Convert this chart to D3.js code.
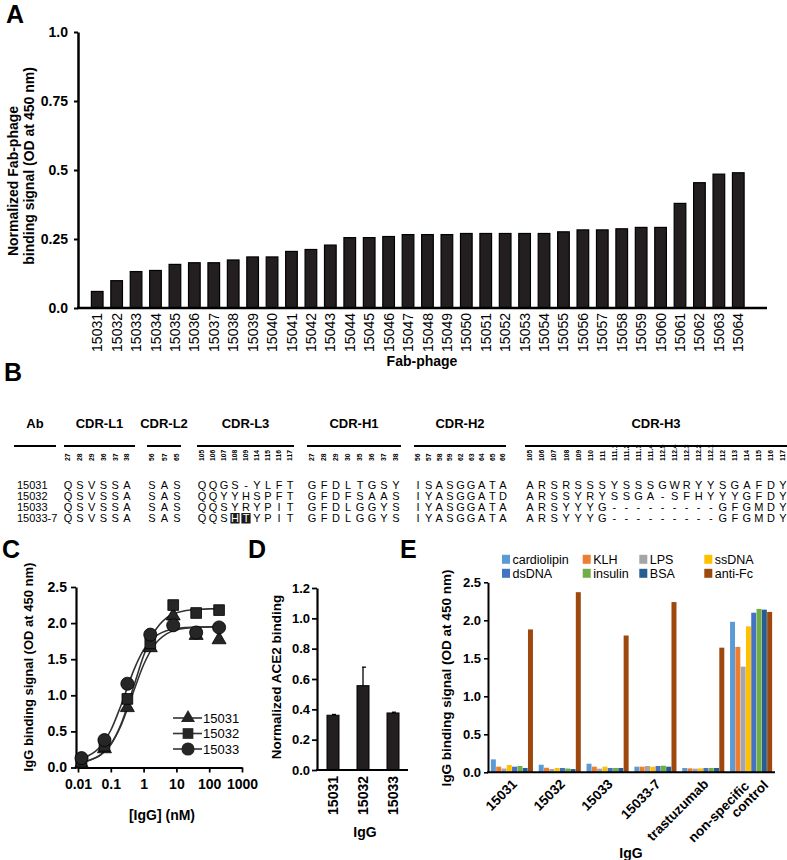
<!DOCTYPE html>
<html><head><meta charset="utf-8">
<script src="https://cdn.jsdelivr.net/npm/d3@7"></script>
<style>
body{margin:0;background:#fff}
svg text{font-family:"Liberation Sans",Arial,Helvetica,sans-serif;fill:#000}
</style>
</head><body>
<svg id="chart" width="787" height="860"></svg>
<script>
// ================= DATA =================
// Panel A
const phageIds = ["15031","15032","15033","15034","15035","15036","15037","15038","15039","15040","15041","15042","15043","15044","15045","15046","15047","15048","15049","15050","15051","15052","15053","15054","15055","15056","15057","15058","15059","15060","15061","15062","15063","15064"];
const phageSignal = [0.060,0.099,0.132,0.136,0.158,0.164,0.164,0.174,0.185,0.185,0.205,0.212,0.228,0.255,0.255,0.259,0.266,0.266,0.266,0.270,0.270,0.270,0.270,0.270,0.276,0.283,0.283,0.287,0.292,0.292,0.379,0.454,0.485,0.490];
const aTicks = [0,0.25,0.5,0.75,1.0];
const aTickLabels = ["0.0","0.25","0.5","0.75","1.0"];

// Panel B
const abNames = ["15031","15032","15033","15033-7"];
const cdrNames = ["CDR-L1","CDR-L2","CDR-L3","CDR-H1","CDR-H2","CDR-H3"];
const cdrPositions = [
  ["27","28","29","36","37","38"],
  ["56","57","65"],
  ["105","106","107","108","109","114","115","116","117"],
  ["27","28","29","30","35","36","37","38"],
  ["56","57","58","59","62","63","64","65","66"],
  ["105","106","107","108","109","110","111","111.1","111.2","111.3","111.4","112.5","112.4","112.3","112.2","112.1","112","113","114","115","116","117"]
];
const seqL1 = ["QSVSSA","QSVSSA","QSVSSA","QSVSSA"];
const seqL2 = ["SAS","SAS","SAS","SAS"];
const seqL3 = ["QQGS-YLFT","QQYYHSPFT","QQSYRYPIT","QQSHTYPIT"];
const seqH1 = ["GFDLTGSY","GFDFSAAS","GFDLGGYS","GFDLGGYS"];
const seqH2 = ["ISASGGATA","IYASGGATD","IYASGGATA","IYASGGATA"];
const seqH3 = ["ARSRSSSYSSSGWRYYSGAFDY","ARSSYRYSSGA-SFHYYYGFDY","ARSYYYG---------GFGMDY","ARSYYYG---------GFGMDY"];
const highlighted = [{ab:"15033-7", cdr:2, idx:3},{ab:"15033-7", cdr:2, idx:4}];

// Panel C
const igConc = [0.0128,0.064,0.32,1.6,8,40,200];
const sig15031 = [0.05,0.26,0.83,1.66,2.10,1.83,1.77];
const sig15032 = [0.08,0.30,0.95,1.72,2.25,2.14,2.18];
const sig15033 = [0.13,0.38,1.16,1.84,1.97,1.87,1.94];
const fitConc = [0.01,0.02,0.05,0.1,0.2,0.5,1,2,5,10,20,50,100,200];
const fit15031 = [0.070,0.094,0.177,0.318,0.571,1.060,1.423,1.678,1.850,1.905,1.930,1.943,1.947,1.948];
const fit15032 = [0.070,0.094,0.178,0.322,0.587,1.125,1.548,1.858,2.072,2.142,2.175,2.191,2.197,2.199];
const fit15033 = [0.115,0.159,0.298,0.516,0.849,1.346,1.628,1.795,1.895,1.926,1.939,1.946,1.948,1.949];
const cXTicks = [0.01,0.1,1,10,100,1000];
const cXTickLabels = ["0.01","0.1","1","10","100","1000"];
const cYTicks = [0,0.5,1,1.5,2,2.5];

// Panel D
const aceIds = ["15031","15032","15033"];
const aceMean = [0.361,0.556,0.376];
const aceErr = [0.005,0.122,0.005];
const dYTicks = [0,0.2,0.4,0.6,0.8,1.0,1.2];

// Panel E
const eGroups = ["15031","15032","15033","15033-7","trastuzumab","non-specific control"];
const eSeries = ["cardiolipin","KLH","LPS","ssDNA","dsDNA","insulin","BSA","anti-Fc"];
const eColors = ["#5B9BD5","#ED7D31","#A5A5A5","#FFC000","#4472C4","#70AD47","#255E91","#9E480E"];
const vCardiolipin = [0.170,0.100,0.113,0.074,0.057,1.98];
const vKLH        = [0.074,0.060,0.074,0.074,0.052,1.65];
const vLPS        = [0.050,0.043,0.048,0.083,0.048,1.39];
const vSsDNA      = [0.096,0.057,0.074,0.074,0.052,1.92];
const vDsDNA      = [0.074,0.057,0.057,0.083,0.057,2.10];
const vInsulin    = [0.083,0.050,0.057,0.087,0.057,2.15];
const vBSA        = [0.057,0.043,0.057,0.074,0.057,2.14];
const vAntiFc     = [1.88,2.37,1.80,2.24,1.64,2.11];
const eYTicks = [0,0.5,1,1.5,2,2.5];

// ================= DRAW =================
const svg = d3.select("#chart");
svg.append("rect").attr("width",787).attr("height",860).attr("fill","#fff");

function styleAxis(g, fs, weight, sw){
  g.select(".domain").attr("stroke","#000").attr("stroke-width",sw);
  g.selectAll(".tick line").attr("stroke","#000").attr("stroke-width",sw*0.8);
  g.selectAll(".tick text").attr("font-size",fs).attr("font-weight",weight)
    .attr("font-family",'"Liberation Sans",Arial,sans-serif').attr("fill","#000");
}
function panelLabel(t,x,y){
  svg.append("text").attr("x",x).attr("y",y).attr("font-size",25).attr("font-weight","bold").text(t);
}
panelLabel("A",6,23); panelLabel("B",4,381); panelLabel("C",2,558); panelLabel("D",248,558); panelLabel("E",400,558);

// ---------- Panel A ----------
{
  const g = svg.append("g");
  const y = d3.scaleLinear().domain([0,1]).range([308,32]);
  const x = d3.scaleBand().domain(phageIds).range([87.5,748]).paddingInner(0.4).paddingOuter(0.2);
  g.selectAll("rect.bar").data(phageIds).join("rect").attr("class","bar")
    .attr("x",d=>x(d)).attr("width",x.bandwidth())
    .attr("y",(d,i)=>y(phageSignal[i])).attr("height",(d,i)=>y(0)-y(phageSignal[i]))
    .attr("fill","#231f20").attr("stroke","#000").attr("stroke-width",1.2);
  const ya = g.append("g").attr("transform","translate(78,0)")
    .call(d3.axisLeft(y).tickValues(aTicks).tickFormat((d,i)=>aTickLabels[i]).tickSize(4).tickSizeOuter(0).tickPadding(6));
  styleAxis(ya,14,"bold",2.5);
  const xa = g.append("g").attr("transform","translate(0,308)").call(d3.axisBottom(x).tickSize(0));
  xa.select(".domain").remove();
  xa.selectAll(".tick text").attr("transform","rotate(-90)").attr("text-anchor","end")
    .attr("x",-5).attr("y",0).attr("dy","0.36em").attr("font-size",14)
    .attr("font-family",'"Liberation Sans",Arial,sans-serif').attr("fill","#000");
  g.append("line").attr("x1",77).attr("x2",x.range()[1]+19).attr("y1",y(0)).attr("y2",y(0))
    .attr("stroke","#000").attr("stroke-width",2.5);
  g.append("text").attr("transform","translate(18,181) rotate(-90)").attr("text-anchor","middle")
    .attr("font-size",14).attr("font-weight","bold").text("Normalized Fab-phage");
  g.append("text").attr("transform","translate(34,166) rotate(-90)").attr("text-anchor","middle")
    .attr("font-size",14).attr("font-weight","bold").text("binding signal (OD at 450 nm)");
  g.append("text").attr("x",422).attr("y",366).attr("text-anchor","middle")
    .attr("font-size",14).attr("font-weight","bold").text("Fab-phage");
}

// ---------- Panel B ----------
{
  const g = svg.append("g");
  const seqs = [seqL1,seqL2,seqL3,seqH1,seqH2,seqH3];
  const colSpan = [[68,127],[152,177],[202,290],[312,396],[418,503],[530,783]];
  const lineSpan = [[64,135],[147,181],[197,294],[307,401],[414,506],[525,787]];
  const rowY = d3.scalePoint().domain(abNames).range([489,522]);
  g.append("text").attr("x",35).attr("y",428).attr("text-anchor","middle").attr("font-size",13).attr("font-weight","bold").text("Ab");
  g.append("line").attr("x1",14).attr("x2",56).attr("y1",446).attr("y2",446).attr("stroke","#000").attr("stroke-width",2);
  abNames.forEach(ab=>{
    g.append("text").attr("x",17).attr("y",rowY(ab)).attr("font-size",11).text(ab);
  });
  cdrNames.forEach((name,c)=>{
    const xs = d3.scalePoint().domain(cdrPositions[c]).range(colSpan[c]);
    const [l0,l1] = lineSpan[c];
    g.append("text").attr("x",(l0+l1)/2).attr("y",428).attr("text-anchor","middle")
      .attr("font-size",13).attr("font-weight","bold").text(name);
    g.append("line").attr("x1",l0).attr("x2",l1).attr("y1",446).attr("y2",446)
      .attr("stroke","#000").attr("stroke-width",2);
    cdrPositions[c].forEach(p=>{
      g.append("text").attr("transform",`translate(${xs(p)},461) rotate(-90)`)
        .attr("dy","0.35em").attr("font-size",6.8).attr("font-weight","bold").text(p);
    });
    abNames.forEach((ab,r)=>{
      const s = seqs[c][r];
      cdrPositions[c].forEach((p,k)=>{
        const hl = highlighted.some(h=>h.ab===ab && h.cdr===c && h.idx===k);
        if(hl){
          g.append("rect").attr("x",xs(p)-4.6).attr("y",rowY(ab)-9).attr("width",9.2).attr("height",10.5).attr("fill","#1a1a1a");
        }
        g.append("text").attr("x",xs(p)).attr("y",rowY(ab)).attr("text-anchor","middle")
          .attr("font-size",11).style("fill",hl?"#fff":"#000").text(s[k]);
      });
    });
  });
}

// ---------- Panel C ----------
{
  const g = svg.append("g");
  const x = d3.scaleLog().domain([0.01,1000]).range([78,242]);
  const y = d3.scaleLinear().domain([0,2.5]).range([767.5,587]);
  const ya = g.append("g").attr("transform","translate(76,0)")
    .call(d3.axisLeft(y).tickValues(cYTicks).tickFormat(d3.format(".1f")).tickSize(5).tickSizeOuter(0).tickPadding(4));
  styleAxis(ya,14,"bold",2.2);
  const xa = g.append("g").attr("transform","translate(0,767.5)")
    .call(d3.axisBottom(x).tickValues(cXTicks).tickFormat((d,i)=>cXTickLabels[i]).tickSize(5).tickSizeOuter(0).tickPadding(7));
  styleAxis(xa,14,"bold",2.2);
  g.append("line").attr("x1",75).attr("x2",79).attr("y1",767.5).attr("y2",767.5).attr("stroke","#000").attr("stroke-width",2.2);
  const line = d3.line().x(d=>x(d[0])).y(d=>y(d[1])).curve(d3.curveMonotoneX);
  const fits = [fit15031,fit15032,fit15033];
  fits.forEach(f=>{
    g.append("path").attr("d",line(fitConc.map((c,i)=>[c,f[i]]))).attr("fill","none")
      .attr("stroke","#333").attr("stroke-width",1.6);
  });
  const syms = [d3.symbol().type(d3.symbolTriangle).size(85),
                d3.symbol().type(d3.symbolSquare).size(115),
                d3.symbol().type(d3.symbolCircle).size(135)];
  const sigs = [sig15031,sig15032,sig15033];
  sigs.forEach((s,k)=>{
    g.selectAll(null).data(igConc).join("path")
      .attr("transform",(c,i)=>`translate(${x(c)},${y(s[i])})`)
      .attr("d",syms[k]()).attr("fill","#262626").attr("stroke","#000").attr("stroke-width",0.8);
  });
  const legNames = ["15031","15032","15033"];
  const legY = d3.scalePoint().domain(legNames).range([718,749]);
  legNames.forEach((n,k)=>{
    g.append("line").attr("x1",173).attr("x2",202).attr("y1",legY(n)).attr("y2",legY(n)).attr("stroke","#333").attr("stroke-width",1.6);
    g.append("path").attr("transform",`translate(188,${legY(n)})`).attr("d",syms[k]()).attr("fill","#262626");
    g.append("text").attr("x",203).attr("y",legY(n)).attr("dy","0.36em").attr("font-size",13).text(n);
  });
  g.append("text").attr("transform","translate(33,667) rotate(-90)").attr("text-anchor","middle")
    .attr("font-size",13).attr("font-weight","bold").text("IgG binding signal (OD at 450 nm)");
  g.append("text").attr("x",162).attr("y",820).attr("text-anchor","middle")
    .attr("font-size",14).attr("font-weight","bold").text("[IgG] (nM)");
}

// ---------- Panel D ----------
{
  const g = svg.append("g");
  const y = d3.scaleLinear().domain([0,1.2]).range([770,588]);
  const x = d3.scaleBand().domain(aceIds).range([318,408]).paddingInner(0.6).paddingOuter(0.3);
  g.selectAll("rect.bar").data(aceIds).join("rect").attr("class","bar")
    .attr("x",d=>x(d)).attr("width",x.bandwidth())
    .attr("y",(d,i)=>y(aceMean[i])).attr("height",(d,i)=>y(0)-y(aceMean[i]))
    .attr("fill","#231f20").attr("stroke","#000").attr("stroke-width",1);
  aceIds.forEach((d,i)=>{
    const cx = x(d)+x.bandwidth()/2;
    g.append("line").attr("x1",cx).attr("x2",cx).attr("y1",y(aceMean[i])).attr("y2",y(aceMean[i]+aceErr[i])).attr("stroke","#000").attr("stroke-width",1.3);
    g.append("line").attr("x1",cx-1).attr("x2",cx+3).attr("y1",y(aceMean[i]+aceErr[i])).attr("y2",y(aceMean[i]+aceErr[i])).attr("stroke","#000").attr("stroke-width",1.3);
  });
  const ya = g.append("g").attr("transform","translate(317,0)")
    .call(d3.axisLeft(y).tickValues(dYTicks).tickFormat(d3.format(".1f")).tickSize(5).tickSizeOuter(0).tickPadding(2));
  styleAxis(ya,13,"bold",2.2);
  const xa = g.append("g").attr("transform","translate(0,770)").call(d3.axisBottom(x).tickSize(0));
  xa.select(".domain").remove();
  xa.selectAll(".tick text").attr("transform","rotate(-90)").attr("text-anchor","end")
    .attr("x",-6).attr("y",0).attr("dy","0.36em").attr("font-size",14).attr("font-weight","bold")
    .attr("font-family",'"Liberation Sans",Arial,sans-serif').attr("fill","#000");
  g.append("line").attr("x1",316).attr("x2",408).attr("y1",770).attr("y2",770).attr("stroke","#000").attr("stroke-width",2.2);
  g.append("text").attr("transform","translate(281,677) rotate(-90)").attr("text-anchor","middle")
    .attr("font-size",13.5).attr("font-weight","bold").text("Normalized ACE2 binding");
  g.append("text").attr("x",365).attr("y",837).attr("text-anchor","middle")
    .attr("font-size",14).attr("font-weight","bold").text("IgG");
}

// ---------- Panel E ----------
{
  const g = svg.append("g");
  const vals = [vCardiolipin,vKLH,vLPS,vSsDNA,vDsDNA,vInsulin,vBSA,vAntiFc];
  const y = d3.scaleLinear().domain([0,2.5]).range([772.3,582.3]);
  const x0 = d3.scaleBand().domain(eGroups).range([488,775]).paddingInner(0.12).paddingOuter(0.06);
  const x1 = d3.scaleBand().domain(eSeries).range([0,x0.bandwidth()]).paddingInner(0.06);
  eGroups.forEach((grp,gi)=>{
    g.append("g").attr("transform",`translate(${x0(grp)},0)`)
      .selectAll("rect").data(eSeries).join("rect")
      .attr("x",s=>x1(s)).attr("width",x1.bandwidth())
      .attr("y",(s,si)=>y(vals[si][gi])).attr("height",(s,si)=>y(0)-y(vals[si][gi]))
      .attr("fill",(s,si)=>eColors[si]);
  });
  const ya = g.append("g").attr("transform","translate(488,0)")
    .call(d3.axisLeft(y).tickValues(eYTicks).tickFormat(d3.format(".1f")).tickSize(4).tickSizeOuter(0).tickPadding(3));
  styleAxis(ya,13,"bold",2);
  g.append("line").attr("x1",487).attr("x2",775).attr("y1",772.3).attr("y2",772.3).attr("stroke","#000").attr("stroke-width",2);
  // category labels
  eGroups.forEach(grp=>{
    const cx = x0(grp)+x0.bandwidth()/2;
    const lines = grp==="non-specific control" ? ["non-specific","control"] : [grp];
    if(lines.length===1){
      g.append("text").attr("transform",`translate(${cx+6},785) rotate(-45)`).attr("text-anchor","end")
        .attr("font-size",13.5).attr("font-weight","bold").text(lines[0]);
    } else {
      g.append("text").attr("transform",`translate(${cx-1},787) rotate(-45)`).attr("text-anchor","end")
        .attr("font-size",13.5).attr("font-weight","bold").text(lines[0]);
      g.append("text").attr("transform",`translate(${cx+18},786) rotate(-45)`).attr("text-anchor","end")
        .attr("font-size",13.5).attr("font-weight","bold").text(lines[1]);
    }
  });
  // legend
  const legCols = [506,586.7,643.3,708.3];
  const legRows = [559.3,573.3];
  eSeries.forEach((name,si)=>{
    const cx = legCols[si%4], cy = legRows[Math.floor(si/4)];
    g.append("rect").attr("x",cx-4).attr("y",cy-4.5).attr("width",8).attr("height",9).attr("fill",eColors[si]);
    g.append("text").attr("x",cx+6.5).attr("y",cy).attr("dy","0.36em").attr("font-size",12.5).text(name);
  });
  g.append("text").attr("transform","translate(451,678) rotate(-90)").attr("text-anchor","middle")
    .attr("font-size",13.5).attr("font-weight","bold").text("IgG binding signal (OD at 450 nm)");
  g.append("text").attr("x",631).attr("y",858).attr("text-anchor","middle")
    .attr("font-size",14).attr("font-weight","bold").text("IgG");
}
</script>
</body></html>
